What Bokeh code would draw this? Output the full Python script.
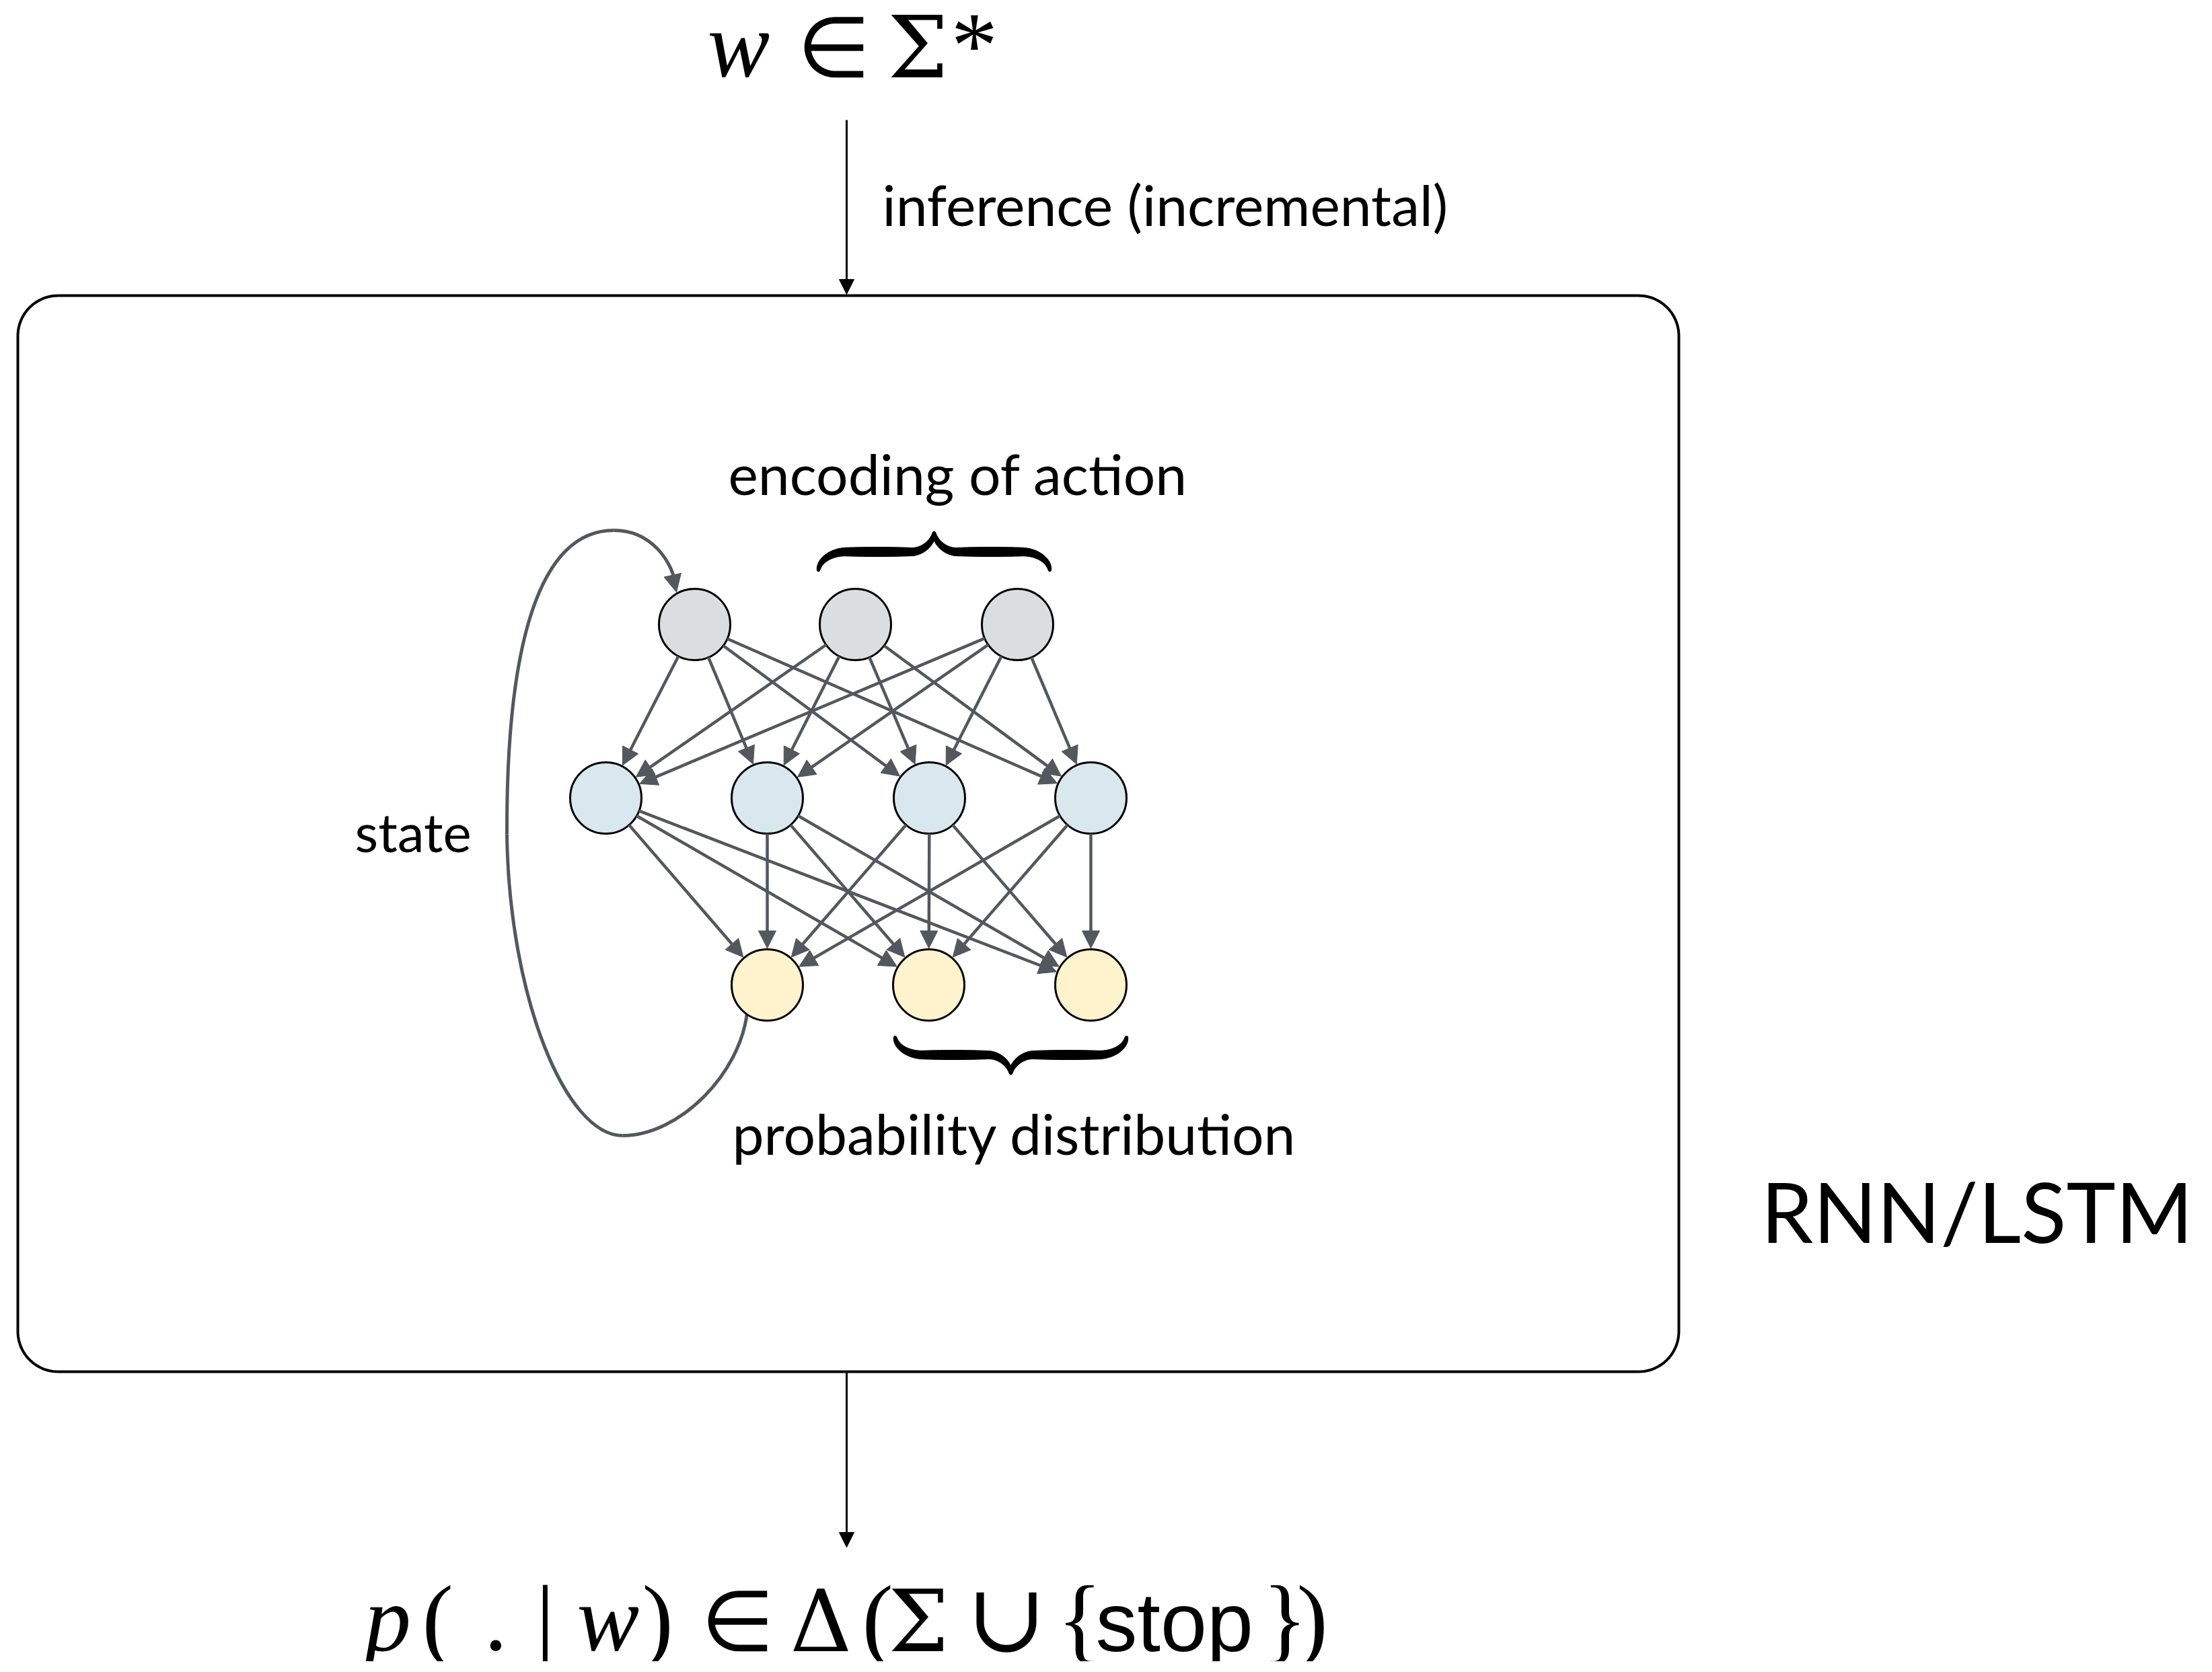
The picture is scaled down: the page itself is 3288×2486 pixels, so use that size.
import numpy as np
from bokeh.plotting import figure
from bokeh.models import Range1d, Arrow, NormalHead, ColumnDataSource
from bokeh.core.properties import value
from bokeh.embed import file_html
from bokeh.resources import INLINE

# ---------------- data (reference pixel coordinates) ----------------
top_x = [1032, 1271, 1512]          # input layer (grey)
top_y = [928, 928, 928]
mid_x = [900, 1140, 1381, 1621]     # hidden layer (blue)
mid_y = [1186, 1186, 1186, 1186]
bot_x = [1140, 1380, 1621]          # output layer (yellow)
bot_y = [1464, 1464, 1464]
node_r = 53

label_text = ["inference (incremental)", "encoding of action", "state",
              "probability distribution"]
label_x = [1311, 1082, 527, 1088]
label_y = [332, 732, 1263, 1713]
label_size = [84, 84, 80, 84]

big_label = ["RNN/LSTM"]
big_x = [2617]
big_y = [1833]

# top formula  w ∈ Σ*
top_f_text = ["w", "\u2208", "\u03a3", "*"]
top_f_x = [1051, 1184, 1319, 1413]
top_f_kind = ["it", "sym", "gr", "rm"]
top_f_base = 115

# bottom formula  p( . | w) ∈ Δ(Σ ∪ {stop})
bot_f_text = ["p", "(", ".", "|", "w", ")", "\u2208", "\u0394", "(", "\u03a3",
              "\u222a", "{", "stop", "}", ")"]
bot_f_x = [541, 627, 719, 796, 857, 954, 1041, 1174, 1281, 1320, 1436, 1571,
           1628, 1876, 1927]
bot_f_kind = ["it", "rm", "rm", "rm", "it", "rm", "sym", "gr", "rm", "gr",
              "cup", "rm", "sf", "rm", "rm"]
bot_f_base = 2455

box = dict(x0=26, y0=439, x1=2495, y1=2039, r=60)
EDGE = "#53575e"

# font settings for formula pieces: (font, style, size px)
KIND = {
    "it": ("Liberation Serif", "italic", 139),
    "rm": ("Liberation Serif", "normal", 139),
    "gr": ("DejaVu Serif", "normal", 127),
    "sym": ("Liberation Serif", "normal", 125),
    "cup": ("DejaVu Serif", "normal", 142),
    "sf": ("Liberation Sans", "normal", 124),
}
SHIFT_EM = 0.35   # empirical: text is drawn ~0.35em below its y

# ---------------- figure ----------------
W, H = 3272, 2470
p = figure(width=W, height=H, x_range=Range1d(0, W), y_range=Range1d(H, 0),
           output_backend="svg", toolbar_location=None, min_border=0,
           x_axis_location=None, y_axis_location=None)
p.grid.visible = False
p.outline_line_color = None
p.background_fill_color = "white"
p.border_fill_color = "white"


def rounded_rect(x0, y0, x1, y1, r, n=24):
    pts = []
    for cx, cy, a0 in [(x1 - r, y0 + r, -90), (x1 - r, y1 - r, 0),
                       (x0 + r, y1 - r, 90), (x0 + r, y0 + r, 180)]:
        ang = np.radians(np.linspace(a0, a0 + 90, n))
        pts += list(zip(cx + r * np.cos(ang), cy + r * np.sin(ang)))
    pts.append(pts[0])
    xs, ys = zip(*pts)
    return list(xs), list(ys)


bx, by = rounded_rect(box["x0"], box["y0"], box["x1"], box["y1"], box["r"])
p.line(bx, by, line_color="black", line_width=4)

# in/out arrows
io = ColumnDataSource(dict(xs=[1258, 1258], ys=[178, box["y1"]],
                           xe=[1258, 1258], ye=[box["y0"] - 2, 2300]))
p.add_layout(Arrow(source=io, x_start="xs", y_start="ys", x_end="xe", y_end="ye",
                   line_color="black", line_width=3,
                   end=NormalHead(size=22, fill_color="black", line_color="black",
                                  line_width=1)))

# network edges
ex0, ey0, ex1, ey1 = [], [], [], []


def add_edges(sx, sy, tx, ty):
    for a, b in zip(sx, sy):
        for c, d in zip(tx, ty):
            dx, dy = c - a, d - b
            L = np.hypot(dx, dy)
            ux, uy = dx / L, dy / L
            ex0.append(a + ux * node_r)
            ey0.append(b + uy * node_r)
            ex1.append(c - ux * (node_r + 1.5))
            ey1.append(d - uy * (node_r + 1.5))


add_edges(top_x, top_y, mid_x, mid_y)
add_edges(mid_x, mid_y, bot_x, bot_y)
es = ColumnDataSource(dict(x0=ex0, y0=ey0, x1=ex1, y1=ey1))
p.add_layout(Arrow(source=es, x_start="x0", y_start="y0", x_end="x1", y_end="y1",
                   line_color=EDGE, line_width=4.5,
                   end=NormalHead(size=26, fill_color=EDGE, line_color=EDGE,
                                  line_width=1)))

# recurrent loop (cubic bezier segments)
loop = dict(
    x0=[1110, 925, 753, 912], y0=[1505, 1688, 1240, 788],
    x1=[925, 753, 912, 1003], y1=[1688, 1240, 788, 866],
    cx0=[1100, 840, 752, 968], cy0=[1595, 1688, 960, 788],
    cx1=[1010, 756, 800, 998], cy1=[1688, 1480, 788, 835],
)
p.bezier(x0="x0", y0="y0", x1="x1", y1="y1", cx0="cx0", cy0="cy0", cx1="cx1",
         cy1="cy1", source=ColumnDataSource(loop), line_color=EDGE, line_width=5)
p.add_layout(Arrow(x_start=1000, y_start=858, x_end=1005, y_end=880,
                   line_alpha=0, line_width=1,
                   end=NormalHead(size=26, fill_color=EDGE, line_color=EDGE,
                                  line_width=1)))

# nodes
p.circle(top_x, top_y, radius=node_r, fill_color="#dcdddf", line_color="black",
         line_width=3)
p.circle(mid_x, mid_y, radius=node_r, fill_color="#d9e7ee", line_color="black",
         line_width=3)
p.circle(bot_x, bot_y, radius=node_r, fill_color="#fef3cc", line_color="black",
         line_width=3)


# curly braces
def cubic(P0, P1, P2, P3, n=30):
    t = np.linspace(0, 1, n)[:, None]
    return ((1 - t) ** 3) * P0 + 3 * ((1 - t) ** 2) * t * P1 + 3 * (1 - t) * t ** 2 * P2 + t ** 3 * P3


def brace_half(xe, ye, xt, yt, ym, a, b, tmax=14):
    s = np.sign(xt - xe)
    k = 0.55
    E = np.array([xe, ye], float)
    A = np.array([xe + s * a, ym], float)
    B = np.array([xt - s * b, ym], float)
    T = np.array([xt, yt], float)
    seg1 = cubic(E, np.array([xe, ye + k * (ym - ye)]), np.array([xe + s * a * (1 - k), ym]), A)
    seg2 = np.linspace(A, B, 20)
    seg3 = cubic(B, np.array([xt - s * b * (1 - k), ym]), np.array([xt, ym + k * (yt - ym)]), T)
    pts = np.vstack([seg1, seg2[1:], seg3[1:]])
    d = np.r_[0, np.cumsum(np.hypot(*np.diff(pts, axis=0).T))]
    u = d / d[-1]
    thick = 2.5 + (tmax - 2.5) * np.sin(np.pi * u) ** 0.5
    tang = np.gradient(pts, axis=0)
    tang /= np.linalg.norm(tang, axis=1)[:, None]
    nrm = np.c_[-tang[:, 1], tang[:, 0]]
    left = pts + nrm * thick[:, None] / 2
    right = pts - nrm * thick[:, None] / 2
    poly = np.vstack([left, right[::-1]])
    return list(poly[:, 0]), list(poly[:, 1])


brace_xs, brace_ys = [], []
for (xl, xr, xt, ye, ym, yt) in [(1216, 1560, 1388, 849, 820, 790),
                                 (1330, 1674, 1502, 1540, 1568, 1597)]:
    for xe in (xl, xr):
        bxs, bys = brace_half(xe, ye, xt, yt, ym, 42, 34)
        brace_xs.append(bxs)
        brace_ys.append(bys)
p.patches(brace_xs, brace_ys, fill_color="black", line_color="black", line_width=1)

# plain labels
for t, x, y, s in zip(label_text, label_x, label_y, label_size):
    p.text([x], [y - 0.35 * s], text=[t], text_font=value("Lato"),
           text_font_size=value(f"{s}px"), text_baseline="alphabetic",
           text_align="left", text_color="black")
p.text(big_x, [v - 34 for v in big_y], text=big_label, text_font=value("Lato"),
       text_font_size=value("124px"), text_baseline="alphabetic", text_align="left",
       text_color="black")


# formulas, one text call per font kind
def draw_formula(texts, xs, kinds, base):
    for kind, (font, style, size) in KIND.items():
        idx = [i for i, k in enumerate(kinds) if k == kind]
        if not idx:
            continue
        p.text([xs[i] for i in idx], [base - SHIFT_EM * size] * len(idx),
               text=[texts[i] for i in idx], text_font=value(font),
               text_font_style=style, text_font_size=value(f"{size}px"),
               text_baseline="alphabetic", text_align="left", text_color="black")


draw_formula(top_f_text, top_f_x, top_f_kind, top_f_base)
draw_formula(bot_f_text, bot_f_x, bot_f_kind, bot_f_base)

open("out.html", "w").write(file_html(p, INLINE))
